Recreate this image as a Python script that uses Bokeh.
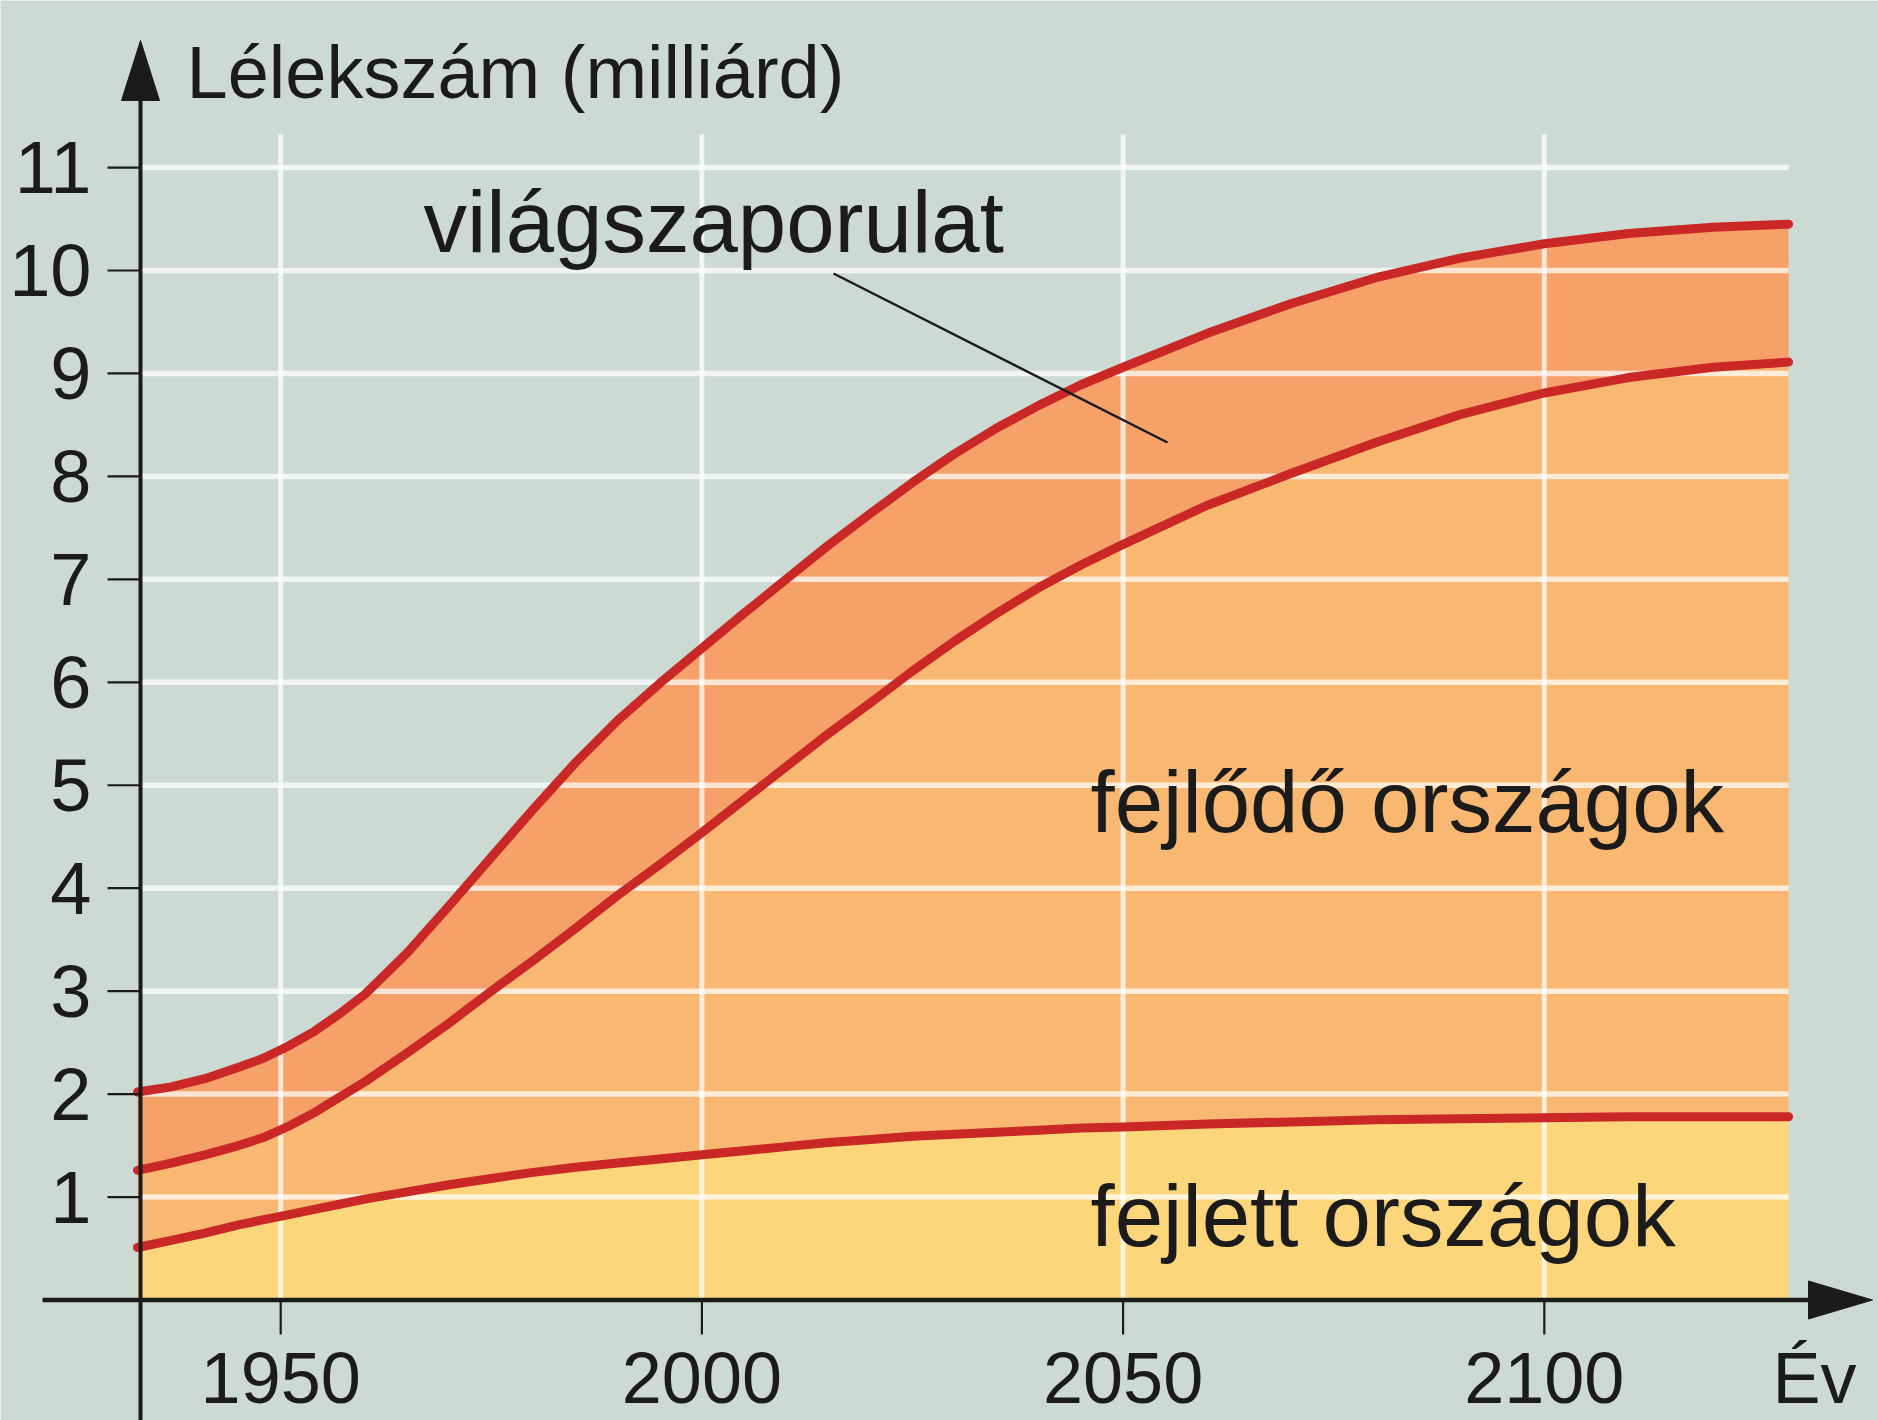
from bokeh.plotting import figure
from bokeh.models import Range1d
from bokeh.core.properties import value
from bokeh.embed import file_html
from bokeh.resources import INLINE

# ---------------- data ----------------
years = [1933, 1937, 1941, 1945, 1948, 1951, 1954, 1957, 1960, 1965, 1970, 1975, 1980, 1985,
         1990, 1995, 2000, 2005, 2010, 2015, 2020, 2025, 2030, 2035, 2040, 2045, 2050,
         2060, 2070, 2080, 2090, 2100, 2110, 2120, 2129]
# world total (top curve)
world = [2.02, 2.07, 2.15, 2.26, 2.35, 2.47, 2.61, 2.78, 2.97, 3.37, 3.83, 4.30, 4.77, 5.22,
         5.63, 5.99, 6.33, 6.67, 7.00, 7.33, 7.64, 7.94, 8.22, 8.47, 8.69, 8.89, 9.06,
         9.39, 9.68, 9.93, 10.12, 10.26, 10.36, 10.42, 10.45]
# developed + developing (middle curve)
developing_top = [1.26, 1.33, 1.41, 1.50, 1.58, 1.69, 1.82, 1.97, 2.12, 2.40, 2.69, 3.00, 3.30, 3.61,
                  3.93, 4.23, 4.54, 4.86, 5.18, 5.50, 5.80, 6.11, 6.40, 6.67, 6.92, 7.14, 7.34,
                  7.72, 8.03, 8.33, 8.60, 8.81, 8.96, 9.06, 9.11]
# developed countries (bottom curve)
developed = [0.51, 0.58, 0.65, 0.73, 0.78, 0.83, 0.88, 0.93, 0.98, 1.05, 1.12, 1.18, 1.24, 1.29,
             1.33, 1.37, 1.41, 1.45, 1.49, 1.53, 1.56, 1.59, 1.61, 1.63, 1.65, 1.67, 1.68,
             1.71, 1.73, 1.75, 1.76, 1.77, 1.78, 1.78, 1.78]

x_ticks = [1950, 2000, 2050, 2100]
x_labels = ["1950", "2000", "2050", "2100"]
y_ticks = [1, 2, 3, 4, 5, 6, 7, 8, 9, 10, 11]
y_labels = [str(v) for v in y_ticks]

y_title = "Lélekszám (milliárd)"
x_title = "Év"
lbl_growth = "világszaporulat"
lbl_developing = "fejlődő országok"
lbl_developed = "fejlett országok"

# ---------------- geometry (page pixels -> data) ----------------
W, H = 1878, 1420
PX_PER_YEAR = 8.424
X_1950 = 280.2
PX_PER_UNIT = 102.95
Y_ZERO = 1299.5

def yr(px):
    return 1950 + (px - X_1950) / PX_PER_YEAR

def vl(py):
    return (Y_ZERO - py) / PX_PER_UNIT

def mid(baseline_px, size_px):
    # vertical middle of a text line whose baseline sits at baseline_px
    return vl(baseline_px - 0.35 * size_px)

BG = "#cddad3"
C_GROWTH = "#f6a06a"
C_DEVELOPING = "#f9b872"
C_DEVELOPED = "#fdd67c"
C_LINE = "#ca2826"
C_INK = "#1b1b1b"
FONT = value("Liberation Sans")
S_TICK, S_XTICK, S_TITLE, S_LABEL = 74, 72, 74, 87

p = figure(width=W, height=H, output_backend="svg", toolbar_location=None,
           x_range=Range1d(yr(0), yr(W)), y_range=Range1d(vl(H), vl(0)),
           x_axis_location=None, y_axis_location=None, min_border=0,
           background_fill_color=BG, border_fill_color=BG, outline_line_color=None)
p.grid.visible = False

axis_x = yr(140)
x_end = years[-1]

# stacked areas
p.varea(x=years, y1=[0] * len(years), y2=developed, fill_color=C_DEVELOPED)
p.varea(x=years, y1=developed, y2=developing_top, fill_color=C_DEVELOPING)
p.varea(x=years, y1=developing_top, y2=world, fill_color=C_GROWTH)

# grid lines
p.segment(x0=[axis_x] * len(y_ticks), y0=y_ticks, x1=[x_end] * len(y_ticks), y1=y_ticks,
          line_color="white", line_alpha=0.72, line_width=5.5)
grid_top = vl(134)
p.segment(x0=x_ticks, y0=[0] * len(x_ticks), x1=x_ticks, y1=[grid_top] * len(x_ticks),
          line_color="white", line_alpha=0.72, line_width=5)

# curves
for ys in (developed, developing_top, world):
    p.line(x=years, y=ys, line_color=C_LINE, line_width=9, line_cap="round", line_join="round")

# leader line for "világszaporulat"
p.segment(x0=[yr(833)], y0=[vl(273)], x1=[yr(1167)], y1=[vl(442)],
          line_color=C_INK, line_width=2.5)

# tick marks
p.segment(x0=x_ticks, y0=[0] * len(x_ticks), x1=x_ticks, y1=[vl(1334)] * len(x_ticks),
          line_color=C_INK, line_width=2.2)
p.segment(x0=[yr(107)] * len(y_ticks), y0=y_ticks, x1=[axis_x] * len(y_ticks), y1=y_ticks,
          line_color=C_INK, line_width=2.2)

# axes lines
p.segment(x0=[axis_x], y0=[vl(H)], x1=[axis_x], y1=[vl(96)], line_color=C_INK, line_width=4)
p.segment(x0=[yr(42)], y0=[0], x1=[yr(1812)], y1=[0], line_color=C_INK, line_width=4.5)

# arrow heads
ah = 19
p.patch(x=[yr(140 - ah), yr(140), yr(140 + ah)], y=[vl(100), vl(40), vl(100)],
        fill_color=C_INK, line_color=C_INK, line_width=1)
p.patch(x=[yr(1808), yr(1872), yr(1808)], y=[vl(Y_ZERO - ah), 0, vl(Y_ZERO + ah)],
        fill_color=C_INK, line_color=C_INK, line_width=1)

# tick labels
p.text(x=[yr(91)] * len(y_ticks), y=y_ticks, text=y_labels, text_font=FONT,
       text_font_size=f"{S_TICK}px", text_align="right", text_baseline="middle", text_color=C_INK)
p.text(x=x_ticks, y=[mid(1403, S_XTICK)] * len(x_ticks), text=x_labels, text_font=FONT,
       text_font_size=f"{S_XTICK}px", text_align="center", text_baseline="middle", text_color=C_INK)
p.text(x=[yr(1772)], y=[mid(1403, S_XTICK)], text=[x_title], text_font=FONT,
       text_font_size=f"{S_XTICK}px", text_align="left", text_baseline="middle", text_color=C_INK)

# axis title
p.text(x=[yr(186)], y=[mid(98, S_TITLE)], text=[y_title], text_font=FONT,
       text_font_size=f"{S_TITLE}px", text_align="left", text_baseline="middle", text_color=C_INK)

# area labels
p.text(x=[yr(423)], y=[mid(251, S_LABEL)], text=[lbl_growth], text_font=FONT,
       text_font_size=f"{S_LABEL}px", text_align="left", text_baseline="middle", text_color=C_INK)
p.text(x=[yr(1090)], y=[mid(831, S_LABEL)], text=[lbl_developing], text_font=FONT,
       text_font_size=f"{S_LABEL}px", text_align="left", text_baseline="middle", text_color=C_INK)
p.text(x=[yr(1090)], y=[mid(1245, S_LABEL)], text=[lbl_developed], text_font=FONT,
       text_font_size=f"{S_LABEL}px", text_align="left", text_baseline="middle", text_color=C_INK)

open("out.html", "w").write(file_html(p, INLINE))
